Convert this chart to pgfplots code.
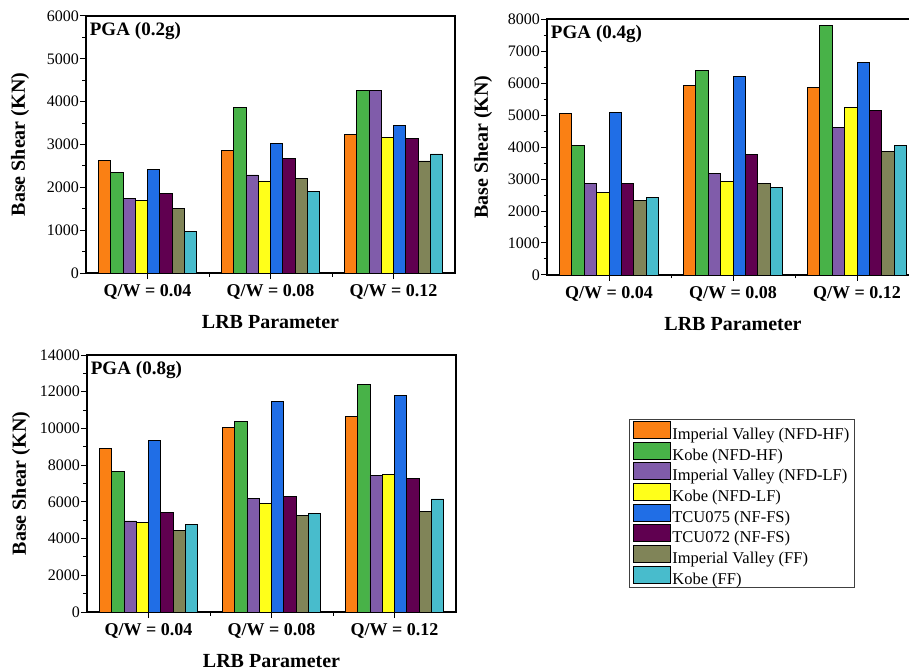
\documentclass[border=0pt]{standalone}
\usepackage{fontspec}
\setmainfont{Liberation Serif}
\usepackage{pgfplots}
\usepackage{pgfplotstable}
\pgfplotsset{compat=1.18}

\definecolor{c1}{RGB}{250,128,20}
\definecolor{c2}{RGB}{72,178,72}
\definecolor{c3}{RGB}{128,92,170}
\definecolor{c4}{RGB}{255,255,26}
\definecolor{c5}{RGB}{32,110,230}
\definecolor{c6}{RGB}{96,0,80}
\definecolor{c7}{RGB}{128,132,88}
\definecolor{c8}{RGB}{72,188,204}

\pgfplotstableread{
x a b c d e f g h
1 2620 2345 1730 1685 2420 1850 1505 980
2 2865 3865 2290 2150 3030 2665 2200 1900
3 3230 4255 4255 3175 3440 3145 2615 2780
}\pgaA
\pgfplotstableread{
x a b c d e f g h
1 5050 4050 2870 2570 5080 2870 2340 2415
2 5910 6380 3165 2935 6200 3755 2865 2750
3 5870 7795 4610 5245 6650 5140 3870 4050
}\pgaB
\pgfplotstableread{
x a b c d e f g h
1 8900 7670 4960 4890 9360 5420 4440 4760
2 10070 10400 6180 5930 11490 6310 5270 5345
3 10655 12400 7420 7490 11800 7290 5470 6160
}\pgaC

\newcommand\bars[1]{%
\addplot[fill=c1,bar shift=-0.35] table[x=x,y=a]{#1};
\addplot[fill=c2,bar shift=-0.25] table[x=x,y=b]{#1};
\addplot[fill=c3,bar shift=-0.15] table[x=x,y=c]{#1};
\addplot[fill=c4,bar shift=-0.05] table[x=x,y=d]{#1};
\addplot[fill=c5,bar shift=0.05] table[x=x,y=e]{#1};
\addplot[fill=c6,bar shift=0.15] table[x=x,y=f]{#1};
\addplot[fill=c7,bar shift=0.25] table[x=x,y=g]{#1};
\addplot[fill=c8,bar shift=0.35] table[x=x,y=h]{#1};
}

\pgfplotsset{
  panel/.style={
    scale only axis,
    ybar, bar width=0.1,
    xmin=0.5, xmax=3.5, ymin=0,
    xtick={1,2,3},
    xticklabels={Q/W = 0.04, Q/W = 0.08, Q/W = 0.12},
    extra x ticks={1.5,2.5},
    extra x tick labels={},
    extra x tick style={major tick length=3.5pt},
    minor y tick num=1,
    xtick pos=bottom, ytick pos=left,
    tick align=outside,
    major tick length=6pt, minor tick length=3.5pt,
    every tick/.style={black, line width=1pt},
    axis line style={line width=1.4pt},
    scaled y ticks=false,
    /pgf/number format/assume math mode=true,
    /pgf/number format/1000 sep={},
    yticklabel style={font=\fontsize{16}{18}\selectfont, inner sep=1pt},
    xticklabel style={font=\bfseries\fontsize{18}{20}\selectfont, yshift=-1.5pt},
    xlabel={LRB Parameter},
    ylabel={Base Shear (KN)},
    label style={font=\bfseries\fontsize{20}{22}\selectfont},
    xlabel style={at={(axis description cs:0.5,-0.19)}, anchor=center},
    every axis plot/.append style={draw=black, line width=0.8pt,
      legend image code/.code={\draw[##1] (0pt,-4pt) rectangle (37pt,13pt);}},
    clip=false,
  },
}

\begin{document}
\begin{tikzpicture}
\begin{axis}[panel,
  at={(86pt,397pt)}, anchor=south west, width=369pt, height=257pt,
  ymax=6000, ytick={0,1000,...,6000},
  ylabel style={at={(axis description cs:-0.179,0.5)}, anchor=center}]
\bars{\pgaA}
\node[anchor=north west, font=\bfseries\fontsize{19}{21}\selectfont, inner sep=0pt]
  at (axis description cs:0.01,0.975) {PGA\hspace{5pt}(0.2g)};
\end{axis}

\begin{axis}[panel,
  at={(547pt,395pt)}, anchor=south west, width=372pt, height=256pt,
  ymax=8000, ytick={0,1000,...,8000},
  ylabel style={at={(axis description cs:-0.172,0.5)}, anchor=center}]
\bars{\pgaB}
\node[anchor=north west, font=\bfseries\fontsize{19}{21}\selectfont, inner sep=0pt]
  at (axis description cs:0.01,0.975) {PGA\hspace{5pt}(0.4g)};
\end{axis}

\begin{axis}[panel,
  at={(87pt,58pt)}, anchor=south west, width=369pt, height=257pt,
  ymax=14000, ytick={0,2000,...,14000},
  ylabel style={at={(axis description cs:-0.179,0.5)}, anchor=center},
  legend cell align=left,
  legend style={at={(axis description cs:1.469,0.751)}, anchor=north west,
    draw=black!75, line width=1pt, font=\fontsize{16.5}{18}\selectfont,
    row sep=0.3pt, inner xsep=3pt, inner ysep=1.5pt,
    nodes={inner xsep=2pt, inner ysep=0.5pt}}]
\bars{\pgaC}
\node[anchor=north west, font=\bfseries\fontsize{19}{21}\selectfont, inner sep=0pt]
  at (axis description cs:0.01,0.975) {PGA\hspace{5pt}(0.8g)};
\legend{Imperial Valley (NFD-HF), Kobe (NFD-HF), Imperial Valley (NFD-LF),
  Kobe (NFD-LF), TCU075 (NF-FS), TCU072 (NF-FS), Imperial Valley (FF), Kobe (FF)}
\end{axis}
\pgfresetboundingbox
\useasboundingbox (0pt,0pt) rectangle (909pt,670pt);
\end{tikzpicture}
\end{document}
